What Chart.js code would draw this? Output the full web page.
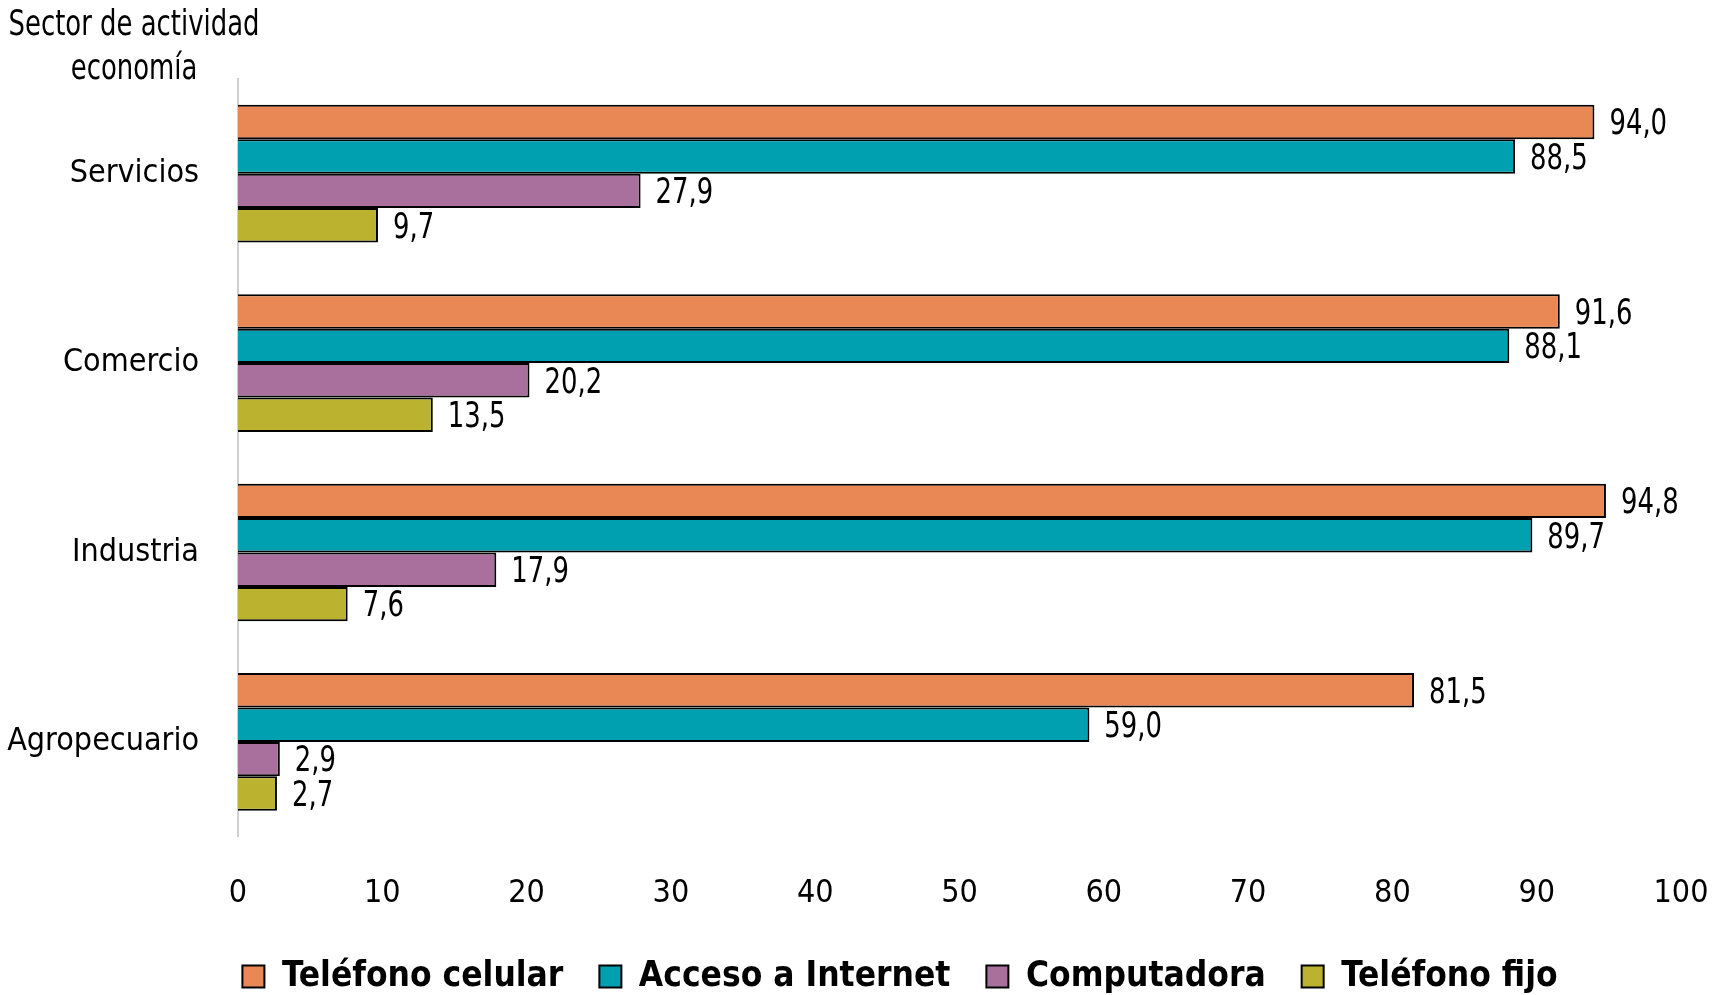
<!DOCTYPE html>
<html>
<head>
<meta charset="utf-8">
<script src="https://cdn.jsdelivr.net/npm/chart.js@4"></script>
<style>
  html, body { margin: 0; padding: 0; background: #fff; }
  #wrap { width: 1714px; height: 995px; position: relative; }
</style>
</head>
<body>
<div id="wrap"><canvas id="grafico"></canvas></div>
<script>
// datos
var sectores = ["Servicios", "Comercio", "Industria", "Agropecuario"];
var celular = [94.0, 91.6, 94.8, 81.5];
var internet = [88.5, 88.1, 89.7, 59.0];
var computadora = [27.9, 20.2, 17.9, 2.9];
var fijo = [9.7, 13.5, 7.6, 2.7];
var nombres = ["Teléfono celular", "Acceso a Internet", "Computadora", "Teléfono fijo"];
var colores = ["#E98855", "#00A0B0", "#A9709D", "#BBB32F"];
var ticksX = [0, 10, 20, 30, 40, 50, 60, 70, 80, 90, 100];

var fuente = "'Liberation Sans Narrow', 'DejaVu Sans Condensed', 'Open Sans', sans-serif";

// texto estrecho: se dibuja con escala horizontal
function textoEstrecho(ctx, txt, x, y, align, size, esc) {
    ctx.save();
    ctx.font = size + "px " + fuente;
    ctx.textAlign = align;
    ctx.textBaseline = "middle";
    ctx.fillStyle = "#000";
    ctx.translate(x, y);
    ctx.scale(esc, 1);
    ctx.fillText(txt, 0, 0);
    ctx.restore();
}

// etiquetas de valor al final de cada barra
var etiquetas = {
    id: "etiquetas",
    afterDatasetsDraw: function (chart) {
        var ctx = chart.ctx;
        chart.data.datasets.forEach(function (ds, i) {
            var meta = chart.getDatasetMeta(i);
            meta.data.forEach(function (bar, j) {
                var txt = ds.data[j].toFixed(1).replace(".", ",");
                textoEstrecho(ctx, txt, bar.x + 15, bar.y + 3, "left", 36, 0.8);
            });
        });
    }
};

// titulo del eje de categorias
var tituloEje = {
    id: "tituloEje",
    afterDraw: function (chart) {
        var ctx = chart.ctx;
        textoEstrecho(ctx, "Sector de actividad", 134, 26, "center", 36, 0.8);
        textoEstrecho(ctx, "economía", 134, 70, "center", 36, 0.8);
    }
};

// la leyenda va algo corrida a la derecha
var moverLeyenda = {
    id: "moverLeyenda",
    afterLayout: function (chart) {
        if (chart.legend) {
            chart.legend.left += 43;
            chart.legend.right += 43;
        }
    }
};

var series = [celular, internet, computadora, fijo];

var grafico = new Chart(document.getElementById("grafico"), {
    type: "bar",
    data: {
        labels: sectores,
        datasets: series.map(function (d, i) {
            return {
                label: nombres[i],
                data: d,
                backgroundColor: colores[i],
                borderColor: "#000",
                borderWidth: 2,
                borderSkipped: "left",
                barPercentage: 1,
                categoryPercentage: 0.727
            };
        })
    },
    options: {
        indexAxis: "y",
        responsive: true,
        maintainAspectRatio: false,
        animation: false,
        devicePixelRatio: 1,
        layout: { padding: { top: 79, right: 0, left: 0, bottom: -9 } },
        plugins: {
            legend: {
                position: "bottom",
                labels: {
                    font: { family: fuente, size: 35, weight: "bold" },
                    color: "#000",
                    boxWidth: 22,
                    boxHeight: 22,
                    padding: 36
                }
            },
            tooltip: { enabled: false }
        },
        scales: {
            x: {
                min: 0,
                max: 100,
                afterBuildTicks: function (s) {
                    s.ticks = ticksX.map(function (v) { return { value: v }; });
                },
                afterFit: function (s) {
                    s.paddingRight = 33;
                    s.height = s.height - 28;
                },
                grid: { display: false, drawTicks: false },
                border: { display: false },
                ticks: {
                    color: "#000",
                    padding: 38,
                    maxRotation: 0,
                    font: { family: fuente, size: 32 }
                }
            },
            y: {
                grid: { display: false, drawTicks: false },
                border: { display: true, color: "#d0d0d0", width: 2 },
                afterFit: function (s) { s.width = 238; },
                ticks: {
                    color: "#000",
                    padding: 39,
                    font: { family: fuente, size: 32 }
                }
            }
        }
    },
    plugins: [etiquetas, tituloEje, moverLeyenda]
});
</script>
</body>
</html>
